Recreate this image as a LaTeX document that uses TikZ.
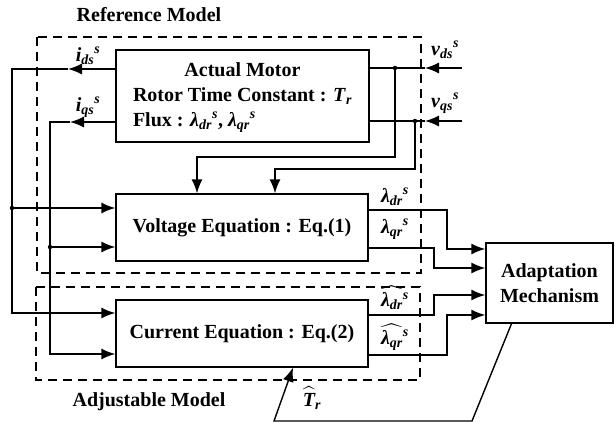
\documentclass[tikz,border=0pt]{standalone}
\usepackage{fontspec}
\setmainfont{Liberation Serif}
\usepackage{amsmath}
\usetikzlibrary{arrows.meta}
\newcommand{\bit}[1]{\textbf{\textit{#1}}}
\newcommand{\sigv}[3]{\bit{#1}$_{\text{\bfseries\itshape #2}}{}^{\text{\bfseries\itshape #3}}$}
\newcommand{\hatv}[3]{$\widehat{\text{\bfseries\itshape #1}_{\text{\bfseries\itshape #2}}}{}^{\text{\bfseries\itshape #3}}$}
\begin{document}
\begin{tikzpicture}[x=1pt,y=-1pt,
  blk/.style={draw, line width=1.4pt, inner sep=0pt, font=\bfseries\fontsize{20}{25}\selectfont},
  lbl/.style={font=\bfseries\fontsize{20}{25}\selectfont, inner sep=0pt},
  sig/.style={line width=1.4pt},
  tip/.style={-{Latex[length=14pt,width=11pt]}},
  dashbox/.style={line width=1.3pt, dash pattern=on 9pt off 6pt}]
\useasboundingbox (0,0) rectangle (616,423);
\node[blk, minimum width=253, minimum height=92] (motor) at (242.5,96) {\begin{tabular}{@{}l@{}}\multicolumn{1}{@{}c@{}}{Actual Motor}\\ Rotor Time Constant : \bit{T}$_{\text{\bfseries\itshape r}}$\\ Flux : \sigv{λ}{dr}{s}, \sigv{λ}{qr}{s}\end{tabular}};
\node[blk, minimum width=252, minimum height=67] (volt) at (242,227.5) {Voltage Equation : Eq.(1)};
\node[blk, minimum width=252, minimum height=67] (curr) at (242,333.5) {Current Equation : Eq.(2)};
\node[blk, minimum width=127, minimum height=80, align=center] (adapt) at (549.5,283) {Adaptation\\Mechanism};
\draw[dashbox] (37,37) rectangle (421,273);
\draw[dashbox] (36,287) rectangle (420,380);
\node[lbl] (refmodel) at (149,15) {Reference Model};
\node[lbl] (adjmodel) at (149,402) {Adjustable Model};
\coordinate (ids a) at (68,69);
\coordinate (ids b) at (12,69);
\coordinate (ids v) at (12,208);
\coordinate (ids c) at (12,313);
\draw[sig,tip] (motor.west |- ids a) -- (ids a);
\draw[sig,tip] (ids a) -- (ids b) -- (ids c) -- (curr.west |- ids c);
\draw[sig,tip] (ids v) -- (volt.west |- ids v);
\fill (ids v) circle (2.2);
\coordinate (iqs a) at (70,122);
\coordinate (iqs b) at (50,122);
\coordinate (iqs v) at (50,247);
\coordinate (iqs c) at (50,354);
\draw[sig,tip] (motor.west |- iqs a) -- (iqs a);
\draw[sig,tip] (iqs a) -- (iqs b) -- (iqs c) -- (curr.west |- iqs c);
\draw[sig,tip] (iqs v) -- (volt.west |- iqs v);
\fill (iqs v) circle (2.2);
\coordinate (vds in) at (462,68);
\coordinate (vds a) at (425,68);
\coordinate (vds j) at (395,68);
\coordinate (vds b) at (395,157);
\coordinate (vds c) at (197,157);
\draw[sig,tip] (vds in) -- (vds a);
\draw[sig] (vds a) -- (motor.east |- vds a);
\draw[sig,tip] (vds j) -- (vds b) -- (vds c) -- (volt.north -| vds c);
\fill (vds j) circle (2.2);
\coordinate (vqs in) at (462,121);
\coordinate (vqs a) at (425,121);
\coordinate (vqs j) at (415,121);
\coordinate (vqs b) at (415,169);
\coordinate (vqs c) at (275,169);
\draw[sig,tip] (vqs in) -- (vqs a);
\draw[sig] (vqs a) -- (motor.east |- vqs a);
\draw[sig,tip] (vqs j) -- (vqs b) -- (vqs c) -- (volt.north -| vqs c);
\fill (vqs j) circle (2.2);
\coordinate (ldr a) at (447,210);
\coordinate (ldr b) at (447,249);
\coordinate (lqr a) at (434,248);
\coordinate (lqr b) at (434,268);
\coordinate (hdr a) at (434,315);
\coordinate (hdr b) at (434,295);
\coordinate (hqr a) at (447,355);
\coordinate (hqr b) at (447,315);
\draw[sig,tip] (volt.east |- ldr a) -- (ldr a) -- (ldr b) -- (adapt.west |- ldr b);
\draw[sig,tip] (volt.east |- lqr a) -- (lqr a) -- (lqr b) -- (adapt.west |- lqr b);
\draw[sig,tip] (curr.east |- hdr a) -- (hdr a) -- (hdr b) -- (adapt.west |- hdr b);
\draw[sig,tip] (curr.east |- hqr a) -- (hqr a) -- (hqr b) -- (adapt.west |- hqr b);
\coordinate (tr a) at (472,421);
\coordinate (tr b) at (274,421);
\coordinate (tr c) at (293,367);
\draw[sig,tip] ([xshift=-38]adapt.south) -- (tr a) -- (tr b) -- (curr.south -| tr c);
\node[lbl] (l ids) at (88,56) {\sigv{i}{ds}{s}};
\node[lbl] (l iqs) at (88,107) {\sigv{i}{qs}{s}};
\node[lbl] (l vds) at (445,50) {\sigv{v}{ds}{s}};
\node[lbl] (l vqs) at (445,103) {\sigv{v}{qs}{s}};
\node[lbl] (l ldr) at (395,197) {\sigv{λ}{dr}{s}};
\node[lbl] (l lqr) at (395,229) {\sigv{λ}{qr}{s}};
\node[lbl] (l hdr) at (395,298) {\hatv{λ}{dr}{s}};
\node[lbl] (l hqr) at (395,337) {\hatv{λ}{qr}{s}};
\node[lbl] (l tr) at (312,398) {$\widehat{\text{\bfseries\itshape T}}_{\text{\bfseries\itshape r}}$};
\end{tikzpicture}
\end{document}
